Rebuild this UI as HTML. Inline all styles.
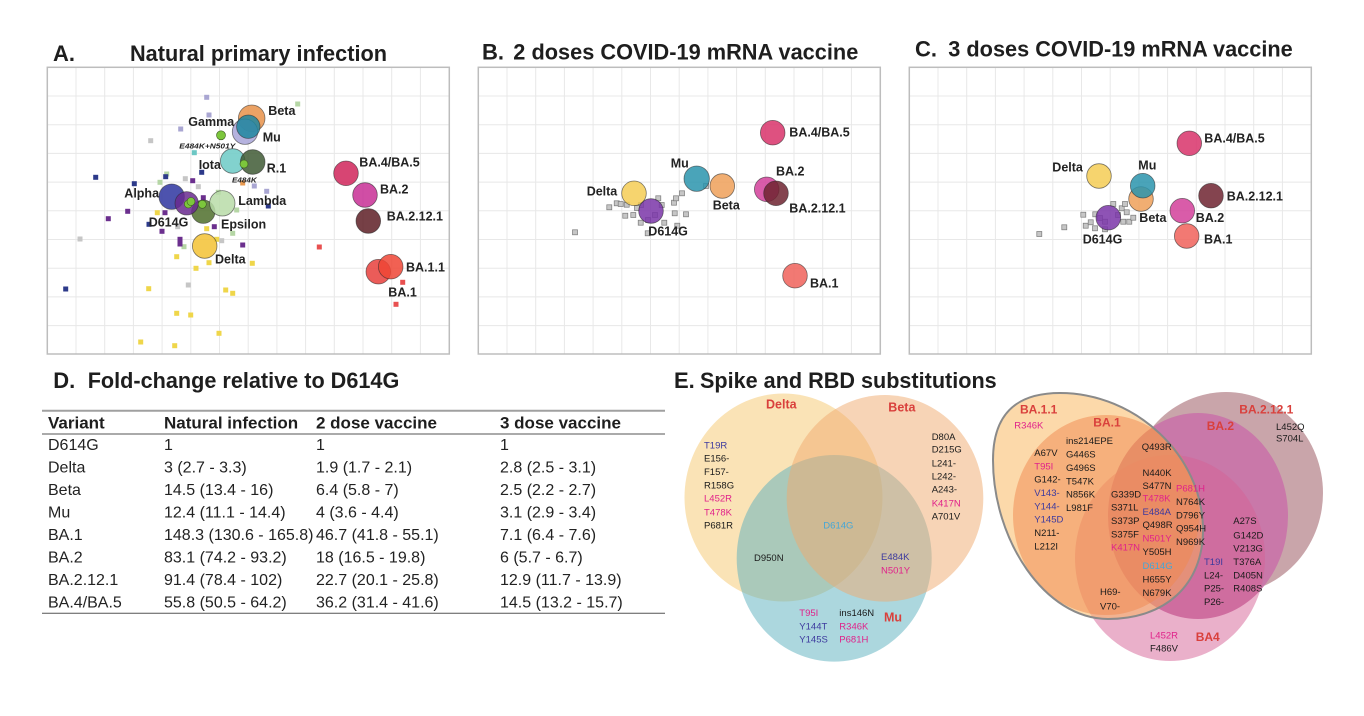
<!DOCTYPE html>
<html><head><meta charset="utf-8"><style>
html,body{margin:0;padding:0;background:#fff;}
svg{display:block;}
text{font-family:"Liberation Sans",Arial,sans-serif;}
.ti{font-weight:bold;font-size:22px;fill:#1e1e1e;}
.lb{font-weight:bold;font-size:12.5px;fill:#222;}
.it{font-weight:bold;font-style:italic;font-size:7.5px;fill:#222;}
.th{font-weight:bold;font-size:17px;fill:#1e1e1e;}
.td{font-size:16px;fill:#222;}
.v{font-size:9.5px;fill:#1a1a1a;}
.m{fill:#e0218a;}
.n{fill:#3d3a9e;}
.bl{fill:#45a6d6;}
.r{font-weight:bold;font-size:12.5px;fill:#d9403c;}
.r2{font-weight:bold;font-size:12px;fill:#d9403c;}
.c{stroke:rgba(40,40,40,0.6);stroke-width:0.8;fill-opacity:0.85;}
.gs{fill:#c6c6c6;stroke:#7a7a7a;stroke-width:0.7;}
</style></head><body>
<svg width="1364" height="716" viewBox="0 0 1364 716" xmlns="http://www.w3.org/2000/svg">
<defs>
<g id="grid">
<path d="M28.7 0V287M57.4 0V287M86.1 0V287M114.8 0V287M143.5 0V287M172.2 0V287M200.9 0V287M229.6 0V287M258.3 0V287M287 0V287M315.7 0V287M344.4 0V287M373.1 0V287M0 28.7H402M0 57.4H402M0 86.1H402M0 114.8H402M0 143.5H402M0 172.2H402M0 200.9H402M0 229.6H402M0 258.3H402" stroke="#e8e8e8" stroke-width="1" fill="none"/>
<rect x="0" y="0" width="402" height="286.7" fill="none" stroke="#bdbdbd" stroke-width="1.5"/>
</g>
</defs>

<!-- Titles -->
<text class="ti" x="53" y="61">A.</text>
<text class="ti" x="130" y="61" textLength="257" lengthAdjust="spacingAndGlyphs">Natural primary infection</text>
<text class="ti" x="482" y="59.5">B.</text>
<text class="ti" x="513.3" y="59.5" textLength="345" lengthAdjust="spacingAndGlyphs">2 doses COVID-19 mRNA vaccine</text>
<text class="ti" x="915" y="56.5">C.</text>
<text class="ti" x="948.3" y="56.5" textLength="344.4" lengthAdjust="spacingAndGlyphs">3 doses COVID-19 mRNA vaccine</text>

<!-- Panel A -->
<use href="#grid" x="47.3" y="67.3"/>
<g>
<g fill="#a9a6d2"><rect x="204.2" y="94.8" width="5" height="5"/><rect x="206.5" y="112.5" width="5" height="5"/><rect x="178.2" y="126.5" width="5" height="5"/><rect x="251.8" y="183.5" width="5" height="5"/><rect x="264.2" y="188.8" width="5" height="5"/></g>
<g fill="#b5d6a5"><rect x="295.2" y="101.5" width="5" height="5"/><rect x="157.5" y="179.8" width="5" height="5"/><rect x="164.2" y="171.5" width="5" height="5"/><rect x="181.5" y="244.2" width="5" height="5"/><rect x="230.2" y="230.8" width="5" height="5"/><rect x="215.8" y="189.8" width="5" height="5"/><rect x="234.2" y="207.5" width="5" height="5"/></g>
<rect x="191.8" y="150.2" width="5" height="5" fill="#6cc7c4"/>
<g fill="#c6c6c6"><rect x="148.2" y="138.2" width="5" height="5"/><rect x="182.8" y="176.2" width="5" height="5"/><rect x="195.8" y="184.2" width="5" height="5"/><rect x="77.5" y="236.5" width="5" height="5"/><rect x="185.8" y="282.5" width="5" height="5"/><rect x="219.2" y="238.2" width="5" height="5"/><rect x="175.2" y="224.2" width="5" height="5"/></g>
<g fill="#2d3a8a"><rect x="93.2" y="174.8" width="5" height="5"/><rect x="131.8" y="181.2" width="5" height="5"/><rect x="163.2" y="174.2" width="5" height="5"/><rect x="199.2" y="169.8" width="5" height="5"/><rect x="265.8" y="203.5" width="5" height="5"/><rect x="63.2" y="286.5" width="5" height="5"/><rect x="146.5" y="221.8" width="5" height="5"/></g>
<g fill="#6b2f8e"><rect x="190.2" y="178.2" width="5" height="5"/><rect x="125.2" y="208.8" width="5" height="5"/><rect x="105.8" y="216.2" width="5" height="5"/><rect x="159.5" y="228.8" width="5" height="5"/><rect x="177.5" y="236.8" width="5" height="5"/><rect x="177.5" y="241.5" width="5" height="5"/><rect x="211.8" y="224.2" width="5" height="5"/><rect x="240.2" y="242.5" width="5" height="5"/><rect x="200.8" y="195.2" width="5" height="5"/><rect x="162.5" y="210.2" width="5" height="5"/></g>
<rect x="240.2" y="180.5" width="5" height="5" fill="#e8994f"/>
<g fill="#efd64a"><rect x="154.8" y="210.2" width="5" height="5"/><rect x="174.2" y="254.2" width="5" height="5"/><rect x="193.5" y="265.8" width="5" height="5"/><rect x="206.5" y="260.2" width="5" height="5"/><rect x="204.2" y="226.2" width="5" height="5"/><rect x="249.8" y="260.8" width="5" height="5"/><rect x="146.2" y="286.2" width="5" height="5"/><rect x="223.2" y="287.5" width="5" height="5"/><rect x="230.2" y="290.8" width="5" height="5"/><rect x="174.2" y="310.8" width="5" height="5"/><rect x="188.2" y="312.5" width="5" height="5"/><rect x="216.5" y="330.8" width="5" height="5"/><rect x="138.2" y="339.5" width="5" height="5"/><rect x="172.2" y="343.2" width="5" height="5"/><rect x="214.2" y="236.8" width="5" height="5"/></g>
<g fill="#e85050"><rect x="316.8" y="244.5" width="5" height="5"/><rect x="400.2" y="279.8" width="5" height="5"/><rect x="393.5" y="301.8" width="5" height="5"/></g>
</g>
<circle class="c" cx="251.7" cy="118.3" r="13.3" fill="#e8924a"/>
<circle class="c" cx="245" cy="131.7" r="12.7" fill="#a8a4d8"/>
<circle class="c" cx="248.3" cy="126.7" r="11.7" fill="#1f86a0"/>
<circle class="c" cx="232.7" cy="161" r="12.3" fill="#6ccac6"/>
<circle class="c" cx="252.7" cy="162" r="12.3" fill="#3f5a35"/>
<circle class="c" cx="171.7" cy="196.7" r="12.7" fill="#2e35a0"/>
<circle class="c" cx="203.3" cy="211.7" r="11.7" fill="#4f6e2c"/>
<circle class="c" cx="186.7" cy="203.3" r="11.7" fill="#6a2a8f"/>
<circle class="c" cx="222.3" cy="203.3" r="12.7" fill="#b8dca8"/>
<circle class="c" cx="204.7" cy="246" r="12.3" fill="#f3c234"/>
<circle class="c" cx="346" cy="173.3" r="12.3" fill="#d0245a"/>
<circle class="c" cx="365" cy="195" r="12.3" fill="#c82f95"/>
<circle class="c" cx="368.3" cy="221" r="12.3" fill="#5e1e26"/>
<circle class="c" cx="378.3" cy="271.7" r="12.3" fill="#e8403c"/>
<circle class="c" cx="390.7" cy="266.7" r="12.3" fill="#ee4535"/>
<g fill="#7cc63c" stroke="#3a5a20" stroke-width="0.6">
<circle cx="221" cy="135.3" r="4.5"/><circle cx="244" cy="164" r="4"/><circle cx="188.3" cy="204" r="4"/><circle cx="191" cy="201.5" r="4"/><circle cx="202.3" cy="204.3" r="4"/>
</g>
<text class="lb" x="268.3" y="115">Beta</text>
<text class="lb" x="188.3" y="126">Gamma</text>
<text class="lb" x="262.7" y="141.7">Mu</text>
<text class="it" x="179.3" y="148.3" textLength="56" lengthAdjust="spacingAndGlyphs">E484K+N501Y</text>
<text class="lb" x="198.7" y="169">Iota</text>
<text class="lb" x="266.7" y="172.7">R.1</text>
<text class="it" x="232" y="182.7" textLength="24.7" lengthAdjust="spacingAndGlyphs">E484K</text>
<text class="lb" x="124.3" y="197.7">Alpha</text>
<text class="lb" x="238.3" y="205">Lambda</text>
<text class="lb" x="148.7" y="226.7">D614G</text>
<text class="lb" x="221" y="228.3">Epsilon</text>
<text class="lb" x="215" y="263.3">Delta</text>
<text class="lb" x="359.3" y="166.7">BA.4/BA.5</text>
<text class="lb" x="380" y="193.3">BA.2</text>
<text class="lb" x="386.7" y="220.7">BA.2.12.1</text>
<text class="lb" x="406" y="271.7">BA.1.1</text>
<text class="lb" x="388.3" y="296.7">BA.1</text>

<!-- Panel B -->
<use href="#grid" x="478.3" y="67.3"/>
<g class="gs">
<rect x="572.5" y="229.8" width="5" height="5"/><rect x="606.8" y="204.8" width="5" height="5"/><rect x="614.2" y="200.8" width="5" height="5"/><rect x="618.2" y="201.5" width="5" height="5"/><rect x="624.2" y="202.2" width="5" height="5"/><rect x="622.8" y="213.2" width="5" height="5"/><rect x="630.8" y="212.5" width="5" height="5"/><rect x="638.2" y="220.2" width="5" height="5"/><rect x="645.2" y="230.8" width="5" height="5"/><rect x="655.8" y="195.8" width="5" height="5"/><rect x="659.2" y="202.5" width="5" height="5"/><rect x="661.8" y="220.2" width="5" height="5"/><rect x="671.5" y="200.2" width="5" height="5"/><rect x="673.5" y="195.8" width="5" height="5"/><rect x="679.5" y="190.8" width="5" height="5"/><rect x="672.2" y="210.8" width="5" height="5"/><rect x="683.5" y="211.8" width="5" height="5"/><rect x="674.8" y="223.2" width="5" height="5"/><rect x="703.5" y="183.5" width="5" height="5"/><rect x="645.5" y="217.5" width="5" height="5"/><rect x="652.5" y="212.5" width="5" height="5"/><rect x="638.5" y="202.5" width="5" height="5"/><rect x="634.5" y="205.5" width="5" height="5"/>
</g>
<circle class="c" cx="772.7" cy="132.7" r="12.3" fill="#d8336a"/>
<circle class="c" cx="722.3" cy="186" r="12.3" fill="#eea059"/>
<circle class="c" cx="696.7" cy="178.7" r="12.7" fill="#2a94ad"/>
<circle class="c" cx="634" cy="193.3" r="12.3" fill="#f5cd55"/>
<circle class="c" cx="651" cy="211" r="12.3" fill="#7a35a8"/>
<circle class="c" cx="766.7" cy="189.3" r="12.3" fill="#d2409a"/>
<circle class="c" cx="776" cy="193.3" r="12.3" fill="#6e2330" fill-opacity="0.75"/>
<circle class="c" cx="795" cy="275.7" r="12.3" fill="#f0625a"/>
<text class="lb" x="789.3" y="136.7">BA.4/BA.5</text>
<text class="lb" x="670.7" y="167.3">Mu</text>
<text class="lb" x="776" y="175.7">BA.2</text>
<text class="lb" x="586.7" y="195.7">Delta</text>
<text class="lb" x="712.7" y="209.3">Beta</text>
<text class="lb" x="789.3" y="212.7">BA.2.12.1</text>
<text class="lb" x="648.3" y="235.7">D614G</text>
<text class="lb" x="810" y="287.7">BA.1</text>

<!-- Panel C -->
<use href="#grid" x="909.3" y="67.3"/>
<g class="gs">
<rect x="1036.8" y="231.5" width="5" height="5"/><rect x="1061.8" y="224.8" width="5" height="5"/><rect x="1080.8" y="212.2" width="5" height="5"/><rect x="1083.2" y="223.2" width="5" height="5"/><rect x="1088.2" y="219.8" width="5" height="5"/><rect x="1092.5" y="225.8" width="5" height="5"/><rect x="1092.8" y="211.8" width="5" height="5"/><rect x="1102.5" y="226.8" width="5" height="5"/><rect x="1110.8" y="201.5" width="5" height="5"/><rect x="1119.2" y="205.8" width="5" height="5"/><rect x="1122.5" y="201.5" width="5" height="5"/><rect x="1124.2" y="209.8" width="5" height="5"/><rect x="1126.8" y="219.2" width="5" height="5"/><rect x="1130.8" y="215.2" width="5" height="5"/><rect x="1120.8" y="219.2" width="5" height="5"/><rect x="1102.5" y="219.2" width="5" height="5"/><rect x="1115.5" y="212.5" width="5" height="5"/><rect x="1097.5" y="215.5" width="5" height="5"/>
</g>
<circle class="c" cx="1189.3" cy="143.3" r="12.3" fill="#d8336a"/>
<circle class="c" cx="1099" cy="176" r="12.3" fill="#f5cd55"/>
<circle class="c" cx="1141" cy="199" r="12.3" fill="#eea059"/>
<circle class="c" cx="1142.7" cy="185.7" r="12.3" fill="#2a94ad"/>
<circle class="c" cx="1211" cy="195.7" r="12.3" fill="#6e2330"/>
<circle class="c" cx="1182.3" cy="210.7" r="12.3" fill="#d2409a"/>
<circle class="c" cx="1108.3" cy="217.7" r="12.3" fill="#7a35a8"/>
<circle class="c" cx="1186.7" cy="236" r="12.3" fill="#f0625a"/>
<text class="lb" x="1204.3" y="142.7">BA.4/BA.5</text>
<text class="lb" x="1052.3" y="171.7">Delta</text>
<text class="lb" x="1138.3" y="169.3">Mu</text>
<text class="lb" x="1226.7" y="200.3">BA.2.12.1</text>
<text class="lb" x="1139.3" y="222">Beta</text>
<text class="lb" x="1195.7" y="222">BA.2</text>
<text class="lb" x="1082.7" y="243.3">D614G</text>
<text class="lb" x="1204" y="243.3">BA.1</text>

<!-- Panel D table -->
<text class="ti" x="53.3" y="388">D.</text>
<text class="ti" x="87.7" y="388" textLength="311.6" lengthAdjust="spacingAndGlyphs">Fold-change relative to D614G</text>
<line x1="42" y1="410.7" x2="665" y2="410.7" stroke="#a0a0a0" stroke-width="2"/>
<text class="th" x="48" y="428.3">Variant</text>
<text class="th" x="164" y="428.3">Natural infection</text>
<text class="th" x="316" y="428.3">2 dose vaccine</text>
<text class="th" x="500" y="428.3">3 dose vaccine</text>
<line x1="42" y1="434" x2="665" y2="434" stroke="#555" stroke-width="1"/>
<g class="td">
<text x="48" y="450">D614G</text><text x="164" y="450">1</text><text x="316" y="450">1</text><text x="500" y="450">1</text>
<text x="48" y="472.7">Delta</text><text x="164" y="472.7">3 (2.7 - 3.3)</text><text x="316" y="472.7">1.9 (1.7 - 2.1)</text><text x="500" y="472.7">2.8 (2.5 - 3.1)</text>
<text x="48" y="495">Beta</text><text x="164" y="495">14.5 (13.4 - 16)</text><text x="316" y="495">6.4 (5.8 - 7)</text><text x="500" y="495">2.5 (2.2 - 2.7)</text>
<text x="48" y="517.7">Mu</text><text x="164" y="517.7">12.4 (11.1 - 14.4)</text><text x="316" y="517.7">4 (3.6 - 4.4)</text><text x="500" y="517.7">3.1 (2.9 - 3.4)</text>
<text x="48" y="540">BA.1</text><text x="164" y="540">148.3 (130.6 - 165.8)</text><text x="316" y="540">46.7 (41.8 - 55.1)</text><text x="500" y="540">7.1 (6.4 - 7.6)</text>
<text x="48" y="562.3">BA.2</text><text x="164" y="562.3">83.1 (74.2 - 93.2)</text><text x="316" y="562.3">18 (16.5 - 19.8)</text><text x="500" y="562.3">6 (5.7 - 6.7)</text>
<text x="48" y="585">BA.2.12.1</text><text x="164" y="585">91.4 (78.4 - 102)</text><text x="316" y="585">22.7 (20.1 - 25.8)</text><text x="500" y="585">12.9 (11.7 - 13.9)</text>
<text x="48" y="607.7">BA.4/BA.5</text><text x="164" y="607.7">55.8 (50.5 - 64.2)</text><text x="316" y="607.7">36.2 (31.4 - 41.6)</text><text x="500" y="607.7">14.5 (13.2 - 15.7)</text>
</g>
<line x1="42" y1="613.3" x2="665" y2="613.3" stroke="#555" stroke-width="1"/>

<!-- Panel E -->
<text class="ti" x="674" y="388">E.</text>
<text class="ti" x="700" y="388" textLength="296.7" lengthAdjust="spacingAndGlyphs">Spike and RBD substitutions</text>

<!-- Left Venn -->
<ellipse cx="783.5" cy="497.5" rx="99" ry="104" fill="rgb(246,200,110)" fill-opacity="0.5"/>
<ellipse cx="834.2" cy="558.3" rx="97.5" ry="103.3" fill="rgb(90,175,190)" fill-opacity="0.5"/>
<ellipse cx="885" cy="498.3" rx="98.3" ry="103.3" fill="rgb(240,170,110)" fill-opacity="0.5"/>
<text class="r" x="766" y="408.3">Delta</text>
<text class="r" x="888.3" y="411.7">Beta</text>
<text class="r" x="884" y="621.7">Mu</text>
<g class="v">
<text class="n" x="704" y="448.3">T19R</text>
<text x="704" y="461.7">E156-</text>
<text x="704" y="475">F157-</text>
<text x="704" y="488.3">R158G</text>
<text class="m" x="704" y="501.7">L452R</text>
<text class="m" x="704" y="515.7">T478K</text>
<text x="704" y="528.3">P681R</text>
<text x="931.7" y="440">D80A</text>
<text x="931.7" y="452.7">D215G</text>
<text x="931.7" y="466.7">L241-</text>
<text x="931.7" y="479.3">L242-</text>
<text x="931.7" y="492.7">A243-</text>
<text class="m" x="931.7" y="506.7">K417N</text>
<text x="931.7" y="519.3">A701V</text>
<text class="bl" x="823.3" y="528.3">D614G</text>
<text x="754" y="561">D950N</text>
<text class="n" x="881" y="560">E484K</text>
<text class="m" x="881" y="573.3">N501Y</text>
<text class="m" x="799.3" y="616">T95I</text>
<text class="n" x="799.3" y="629.3">Y144T</text>
<text class="n" x="799.3" y="642.7">Y145S</text>
<text x="839.3" y="616">ins146N</text>
<text class="m" x="839.3" y="629.3">R346K</text>
<text class="m" x="839.3" y="642.7">P681H</text>
</g>

<!-- Right Venn -->
<ellipse cx="1226" cy="493" rx="97" ry="101" fill="#c9a5aa"/>
<ellipse cx="1198" cy="516" rx="90" ry="103" fill="#c978a9"/>
<ellipse cx="1170" cy="558" rx="95" ry="103" fill="rgb(213,97,149)" fill-opacity="0.5"/>
<path d="M993 460 C993 415 1015 393 1060 393 C1135 393 1203 455 1203 530 C1203 585 1165 619 1108 619 C1045 619 993 540 993 460 Z" fill="rgb(249,179,85)" fill-opacity="0.5"/>
<ellipse cx="1106" cy="515" rx="93" ry="100" fill="rgb(240,135,78)" fill-opacity="0.5"/>
<path d="M993 460 C993 415 1015 393 1060 393 C1135 393 1203 455 1203 530 C1203 585 1165 619 1108 619 C1045 619 993 540 993 460 Z" fill="none" stroke="#8a8a8a" stroke-width="2"/>
<text class="r2" x="1020" y="413.3">BA.1.1</text>
<text class="r2" x="1093.3" y="426.7">BA.1</text>
<text class="r2" x="1206.7" y="430">BA.2</text>
<text class="r2" x="1239.3" y="413.3">BA.2.12.1</text>
<text class="r2" x="1195.7" y="641">BA4</text>
<g class="v">
<text class="m" x="1014.3" y="428.3">R346K</text>
<text x="1066" y="444">ins214EPE</text>
<text x="1066" y="457.7">G446S</text>
<text x="1066" y="471">G496S</text>
<text x="1066" y="484.3">T547K</text>
<text x="1066" y="497.7">N856K</text>
<text x="1066" y="511">L981F</text>
<text x="1034.3" y="456">A67V</text>
<text class="m" x="1034.3" y="469.3">T95I</text>
<text x="1034.3" y="482.7">G142-</text>
<text class="n" x="1034.3" y="496">V143-</text>
<text class="n" x="1034.3" y="509.3">Y144-</text>
<text class="n" x="1034.3" y="522.7">Y145D</text>
<text x="1034.3" y="536">N211-</text>
<text x="1034.3" y="549.3">L212I</text>
<text x="1141.7" y="450">Q493R</text>
<text x="1142.5" y="476">N440K</text>
<text x="1142.5" y="489">S477N</text>
<text class="m" x="1142.5" y="501.7">T478K</text>
<text class="n" x="1142.5" y="515">E484A</text>
<text x="1142.5" y="528">Q498R</text>
<text class="m" x="1142.5" y="541.7">N501Y</text>
<text x="1142.5" y="555">Y505H</text>
<text class="bl" x="1142.5" y="569">D614G</text>
<text x="1142.5" y="582.5">H655Y</text>
<text x="1142.5" y="595.8">N679K</text>
<text x="1111" y="497.3">G339D</text>
<text x="1111" y="510.7">S371L</text>
<text x="1111" y="524">S373P</text>
<text x="1111" y="537.3">S375F</text>
<text class="m" x="1111" y="550.7">K417N</text>
<text class="m" x="1176" y="491.7">P681H</text>
<text x="1176" y="505">N764K</text>
<text x="1176" y="518.3">D796Y</text>
<text x="1176" y="531.7">Q954H</text>
<text x="1176" y="545">N969K</text>
<text x="1100" y="595">H69-</text>
<text x="1100" y="609.3">V70-</text>
<text class="m" x="1150" y="638.3">L452R</text>
<text x="1150" y="651.7">F486V</text>
<text class="n" x="1204" y="565">T19I</text>
<text x="1204" y="578.3">L24-</text>
<text x="1204" y="591.7">P25-</text>
<text x="1204" y="605">P26-</text>
<text x="1233.3" y="524">A27S</text>
<text x="1233.3" y="538.3">G142D</text>
<text x="1233.3" y="551.7">V213G</text>
<text x="1233.3" y="565">T376A</text>
<text x="1233.3" y="578.3">D405N</text>
<text x="1233.3" y="591.7">R408S</text>
<text x="1276" y="430">L452Q</text>
<text x="1276" y="441.7">S704L</text>
</g>
</svg>
</body></html>
